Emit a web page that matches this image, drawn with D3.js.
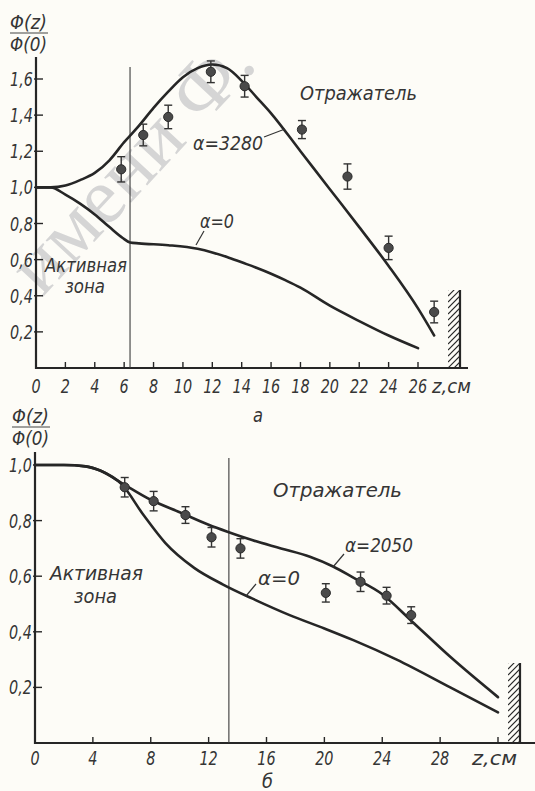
<!DOCTYPE html>
<html>
<head>
<meta charset="utf-8">
<script src="https://cdn.jsdelivr.net/npm/d3@7"></script>
<style>
  body { margin: 0; background: #fdfcf7; }
  svg { display: block; }
  text { font-family: 'DejaVu Sans', sans-serif; font-style: italic; fill: #353535; }
</style>
</head>
<body>
<svg id="chart" width="535" height="791"></svg>
<script>
// ---- Panel а (top) -------------------------------------------------------
var topZ3280   = [0, 1, 2, 3, 4, 5, 6, 7, 8, 9, 10, 11, 12, 13, 14, 15, 16, 18, 20, 22, 24, 26, 27.1];
var topPhi3280 = [1.0, 1.0, 1.01, 1.04, 1.08, 1.15, 1.25, 1.34, 1.44, 1.53, 1.61, 1.66, 1.68, 1.66, 1.59, 1.5, 1.41, 1.2, 0.99, 0.78, 0.565, 0.33, 0.18];
var topZ0      = [0, 1, 2, 3, 4, 5, 5.9, 6.4, 7, 9, 11, 12, 13, 14, 15, 16, 17, 18, 20, 22, 24, 26];
var topPhi0    = [1.0, 1.0, 0.96, 0.91, 0.85, 0.78, 0.72, 0.695, 0.69, 0.68, 0.66, 0.64, 0.615, 0.585, 0.555, 0.522, 0.485, 0.445, 0.345, 0.26, 0.18, 0.11];
var topExpZ    = [5.8, 7.3, 9.0, 11.9, 14.2, 18.1, 21.2, 24.0, 27.1];
var topExpPhi  = [1.1, 1.29, 1.39, 1.64, 1.56, 1.32, 1.06, 0.665, 0.31];
var topExpErr  = [0.07, 0.06, 0.065, 0.06, 0.06, 0.05, 0.07, 0.065, 0.06];
var topXTicks  = [0, 2, 4, 6, 8, 10, 12, 14, 16, 18, 20, 22, 24, 26];
var topYTicks  = [0.2, 0.4, 0.6, 0.8, 1.0, 1.2, 1.4, 1.6];
var topCoreEdge = 6.4;

// ---- Panel б (bottom) ----------------------------------------------------
var botZ2050   = [0, 2, 3.5, 4.5, 6, 8, 10, 12, 13.3, 15, 17, 19, 20.6, 22, 24, 26, 28.7, 32];
var botPhi2050 = [1.0, 1.0, 0.995, 0.98, 0.935, 0.875, 0.83, 0.785, 0.76, 0.73, 0.7, 0.67, 0.635, 0.595, 0.535, 0.44, 0.31, 0.165];
var botZ0      = [0, 2, 3.5, 4.5, 6, 7.5, 9, 11, 13, 15, 17.6, 20, 22, 25, 28.7, 32];
var botPhi0    = [1.0, 1.0, 0.995, 0.98, 0.93, 0.82, 0.72, 0.63, 0.57, 0.52, 0.46, 0.412, 0.37, 0.3, 0.2, 0.11];
var botExpZ    = [6.2, 8.2, 10.4, 12.2, 14.2, 20.1, 22.5, 24.3, 26.0];
var botExpPhi  = [0.92, 0.87, 0.82, 0.74, 0.70, 0.54, 0.58, 0.53, 0.46];
var botExpErr  = [0.035, 0.035, 0.03, 0.035, 0.035, 0.033, 0.035, 0.03, 0.03];
var botXTicks  = [0, 4, 8, 12, 16, 20, 24, 28, 32];
var botYTicks  = [0.2, 0.4, 0.6, 0.8, 1.0];
var botCoreEdge = 13.4;

var INK = '#262626';
var svg = d3.select('#chart');

// faint library watermark from the scan
svg.append('text')
  .attr('transform', 'translate(42,298) rotate(-47)')
  .style('font-family', "'Liberation Serif', serif")
  .style('font-style', 'normal')
  .style('font-size', '80px')
  .style('fill', '#d5d5d5')
  .text('имени Ф.');

function comma(v) { return d3.format('.1f')(v).replace('.', ','); }

// text squeezed horizontally like drafting lettering
function label(g, x, y, str, size, sx, anchor) {
  return g.append('text')
    .attr('transform', 'translate(' + x + ',' + y + ') scale(' + sx + ',1)')
    .attr('text-anchor', anchor || 'start')
    .style('font-size', size + 'px')
    .text(str);
}
function fitLabel(g, x, y, str, size, width) {
  var t = label(g, x, y, str, size, 1);
  var w = t.node().getComputedTextLength();
  t.attr('transform', 'translate(' + x + ',' + y + ') scale(' + (width / w) + ',1)');
  return t;
}

function hatch(g, x, y0, y1, w) {
  var id = 'clip' + Math.round(x);
  g.append('clipPath').attr('id', id)
    .append('rect').attr('x', x - w).attr('y', y0).attr('width', w).attr('height', y1 - y0);
  var hg = g.append('g').attr('clip-path', 'url(#' + id + ')');
  for (var yy = y0 - w; yy < y1 + w; yy += 6) {
    hg.append('line').attr('x1', x - w).attr('y1', yy + w).attr('x2', x).attr('y2', yy)
      .attr('stroke', INK).attr('stroke-width', 1.1);
  }
  g.append('line').attr('x1', x).attr('x2', x).attr('y1', y0).attr('y2', y1)
    .attr('stroke', INK).attr('stroke-width', 2.2);
}

function panel(cfg) {
  var g = svg.append('g');
  var x = d3.scaleLinear().domain(cfg.xDomain).range(cfg.xRange);
  var y = d3.scaleLinear().domain(cfg.yDomain).range(cfg.yRange);
  var y0 = y(0), x0 = x(0);

  // axes
  g.append('line').attr('x1', x0).attr('x2', x0).attr('y1', cfg.yAxisTop).attr('y2', y0 + 1)
    .attr('stroke', INK).attr('stroke-width', 2.2);
  g.append('line').attr('x1', x0 - 1).attr('x2', cfg.xAxisEnd).attr('y1', y0).attr('y2', y0)
    .attr('stroke', INK).attr('stroke-width', 2.2);

  cfg.yTicks.forEach(function(v) {
    g.append('line').attr('x1', x0 - 2).attr('x2', x0 + 7).attr('y1', y(v)).attr('y2', y(v))
      .attr('stroke', INK).attr('stroke-width', 1.4);
    label(g, x0 - 3, y(v) + 7, comma(v), 20, 0.72, 'end');
  });
  cfg.xTicks.forEach(function(v) {
    if (v !== 0) {
      g.append('line').attr('x1', x(v)).attr('x2', x(v)).attr('y1', y0).attr('y2', y0 - 6)
        .attr('stroke', INK).attr('stroke-width', 1.4);
    }
    if (cfg.xLabels.indexOf(v) >= 0) label(g, x(v), cfg.xLabelY, String(v), 20, 0.72, 'middle');
  });
  fitLabel(g, cfg.unitX, cfg.xLabelY, 'z,см', 20, cfg.unitW);

  // y-axis title as a fraction
  fitLabel(g, cfg.titleX, cfg.titleY, 'Φ(z)', 20, 37);
  g.append('line').attr('x1', cfg.titleX).attr('x2', cfg.titleX + 38)
    .attr('y1', cfg.titleY + 4).attr('y2', cfg.titleY + 4).attr('stroke', '#444').attr('stroke-width', 1.2);
  fitLabel(g, cfg.titleX, cfg.titleY + 22, 'Φ(0)', 20, 37);

  // core / reflector boundary
  g.append('line').attr('x1', x(cfg.core)).attr('x2', x(cfg.core))
    .attr('y1', cfg.coreTop).attr('y2', y0).attr('stroke', '#3a3a3a').attr('stroke-width', 1.1);

  hatch(g, cfg.wallX, cfg.wallTop, y0, 12);

  var line = d3.line().x(function(d) { return x(d[0]); }).y(function(d) { return y(d[1]); })
    .curve(d3.curveMonotoneX);
  cfg.curves.forEach(function(c) {
    g.append('path').datum(d3.zip(c[0], c[1])).attr('d', line)
      .attr('fill', 'none').attr('stroke', INK).attr('stroke-width', 2.6)
      .attr('stroke-linejoin', 'round').attr('stroke-linecap', 'round');
  });

  // measured points with error bars
  cfg.expZ.forEach(function(z, i) {
    var v = cfg.expPhi[i], e = cfg.expErr[i], px = x(z);
    g.append('line').attr('x1', px).attr('x2', px).attr('y1', y(v - e)).attr('y2', y(v + e))
      .attr('stroke', '#333').attr('stroke-width', 1.4);
    [v - e, v + e].forEach(function(w) {
      g.append('line').attr('x1', px - 4).attr('x2', px + 4).attr('y1', y(w)).attr('y2', y(w))
        .attr('stroke', '#333').attr('stroke-width', 1.4);
    });
    g.append('circle').attr('cx', px).attr('cy', y(v)).attr('r', 4.6)
      .attr('fill', '#4a4a4a').attr('stroke', '#2a2a2a').attr('stroke-width', 1);
  });

  cfg.texts.forEach(function(t) { fitLabel(g, t[0], t[1], t[2], t[3], t[4]); });
  cfg.leaders.forEach(function(l) {
    g.append('line').attr('x1', l[0]).attr('y1', l[1]).attr('x2', l[2]).attr('y2', l[3])
      .attr('stroke', '#333').attr('stroke-width', 1.2);
  });
}

panel({
  xDomain: [0, 26], xRange: [36, 418],
  yDomain: [0, 1.6], yRange: [368, 79],
  yAxisTop: 57, xAxisEnd: 468,
  yTicks: topYTicks, xTicks: topXTicks, xLabels: topXTicks, xLabelY: 393,
  unitX: 432, unitW: 39,
  titleX: 10, titleY: 29,
  core: topCoreEdge, coreTop: 67,
  wallX: 460, wallTop: 290,
  curves: [[topZ3280, topPhi3280], [topZ0, topPhi0]],
  expZ: topExpZ, expPhi: topExpPhi, expErr: topExpErr,
  texts: [
    [300, 100, 'Отражатель', 19, 117],
    [193, 150, 'α=3280', 19, 70],
    [200, 228, 'α=0', 19, 34],
    [45, 272, 'Активная', 19, 82],
    [65, 293, 'зона', 19, 40],
    [253, 422, 'а', 19, 10]
  ],
  leaders: [[264, 137, 285, 129], [196, 245, 204, 231]]
});

panel({
  xDomain: [0, 32], xRange: [35, 498],
  yDomain: [0, 1.0], yRange: [743, 465],
  yAxisTop: 452, xAxisEnd: 535,
  yTicks: botYTicks, xTicks: botXTicks, xLabels: [0, 4, 8, 12, 16, 20, 24, 28], xLabelY: 765,
  unitX: 472, unitW: 45,
  titleX: 12, titleY: 423,
  core: botCoreEdge, coreTop: 458,
  wallX: 520, wallTop: 663,
  curves: [[botZ2050, botPhi2050], [botZ0, botPhi0]],
  expZ: botExpZ, expPhi: botExpPhi, expErr: botExpErr,
  texts: [
    [273, 497, 'Отражатель', 19, 129],
    [345, 552, 'α=2050', 19, 68],
    [258, 585, 'α=0', 19, 42],
    [50, 580, 'Активная', 19, 93],
    [74, 603, 'зона', 19, 43],
    [262, 788, 'б', 19, 11]
  ],
  leaders: [[333, 567, 344, 554], [246, 596, 256, 584]]
});
</script>
</body>
</html>
